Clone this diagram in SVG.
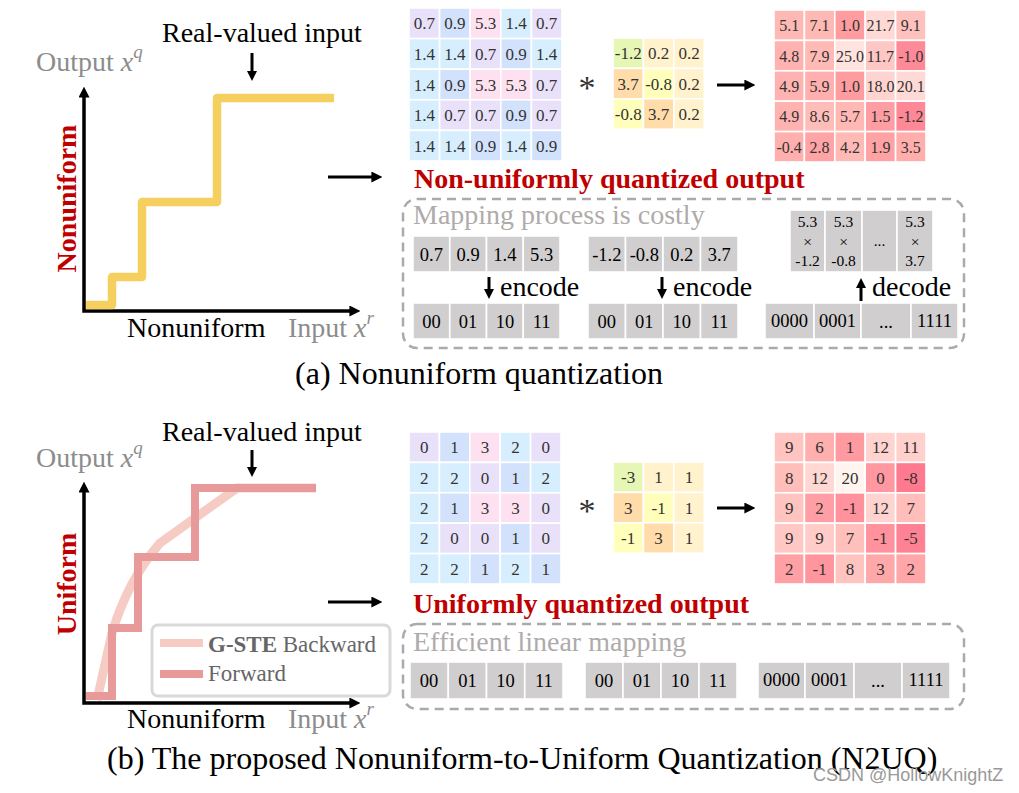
<svg xmlns="http://www.w3.org/2000/svg" width="1019" height="793" viewBox="0 0 1019 793">
<style>
text{font-family:"Liberation Serif","Times New Roman",serif}
.t28{font-size:28px;fill:#000}
.gl{font-size:28px;fill:#8c8c8c}
.red{font-size:28px;font-weight:bold;fill:#c00000}
.map{font-size:28px;fill:#afabab}
.enc{font-size:28px;fill:#000}
.cap{font-size:32px;fill:#000}
.n{font-size:17px;fill:#333;text-anchor:middle}
.o{font-size:16px;fill:#333;text-anchor:middle}
.g{font-size:18.5px;fill:#000;text-anchor:middle}
.s{font-size:15.5px;fill:#000;text-anchor:middle}
.wm{font-family:"Liberation Sans",Arial,sans-serif;font-size:18px;fill:#999}
.cell rect{stroke:#fff;stroke-width:1.6}
.lv{fill:#e9e1f9}.bl{fill:#d3e2fc}.cy{fill:#d6eefd}.pk{fill:#fde1f0}
.gn{fill:#e6f6b5}.cr{fill:#fff2cc}.or{fill:#ffdcaa}.yl{fill:#ffffbb}
.gy{fill:#d0cece}
.ax{fill:none;stroke:#000;stroke-width:3.5}
.ar{fill:none;stroke:#000;stroke-width:3}
.box{fill:none;stroke:#aaa;stroke-width:2.5;stroke-dasharray:9 6}
</style>
<defs>
<marker id="ah" viewBox="0 0 10 10" markerWidth="11" markerHeight="11" refX="6" refY="5" orient="auto-start-reverse" markerUnits="userSpaceOnUse"><path d="M0,0 L10,5 L0,10 z" fill="#000"/></marker>
<marker id="ahs" viewBox="0 0 10 10" markerWidth="10" markerHeight="10" refX="6" refY="5" orient="auto-start-reverse" markerUnits="userSpaceOnUse"><path d="M0,0 L10,5 L0,10 z" fill="#000"/></marker>
</defs>
<rect width="1019" height="793" fill="#fff"/>

<!-- ===== (a) graph ===== -->
<g id="graph-a">
<text class="t28" x="162" y="42">Real-valued input</text>
<text class="gl" x="36" y="71">Output <tspan font-style="italic">x</tspan><tspan font-style="italic" font-size="19" dy="-13">q</tspan></text>
<path class="ax" d="M84 91 V311 H356" marker-start="url(#ah)" marker-end="url(#ah)"/>
<path d="M86 305 H112 V277 H142 V202 H217 V98 H334" fill="none" stroke="#f6d05f" stroke-width="8.5" stroke-linejoin="round"/>
<text class="red" transform="translate(76,198.5) rotate(-90)" text-anchor="middle">Nonuniform</text>
<text class="t28" x="127" y="337">Nonuniform</text>
<text class="gl" x="288" y="337">Input <tspan font-style="italic">x</tspan><tspan font-style="italic" font-size="19" dy="-13">r</tspan></text>
</g>

<!-- ===== (b) graph ===== -->
<g id="graph-b">
<text class="t28" x="162" y="441">Real-valued input</text>
<text class="gl" x="36" y="467">Output <tspan font-style="italic">x</tspan><tspan font-style="italic" font-size="19" dy="-13">q</tspan></text>
<path class="ax" d="M84 486 V703 H356" marker-start="url(#ah)" marker-end="url(#ah)"/>
<path d="M97 700 L112 633 Q128 580 160 543 L237 488 H316" fill="none" stroke="#f6cbc4" stroke-width="9"/>
<path d="M86 696 H112 V628 H138 V557 H195 V488 H316" fill="none" stroke="#e89a9a" stroke-width="8"/>
<text class="red" transform="translate(76,584) rotate(-90)" text-anchor="middle">Uniform</text>
<text class="t28" x="127" y="728">Nonuniform</text>
<text class="gl" x="288" y="728">Input <tspan font-style="italic">x</tspan><tspan font-style="italic" font-size="19" dy="-13">r</tspan></text>
</g>
<g id="legend">
<rect x="152" y="625" width="238" height="71" rx="6" fill="#fff" stroke="#d9d9d9" stroke-width="3"/>
<line x1="160" y1="643" x2="203" y2="643" stroke="#f6cbc4" stroke-width="8"/>
<line x1="160" y1="674" x2="203" y2="674" stroke="#e89a9a" stroke-width="8"/>
<text x="208" y="652" font-size="23" fill="#666"><tspan font-weight="bold">G-STE</tspan> Backward</text>
<text x="208" y="681" font-size="23" fill="#666">Forward</text>
</g>

<!-- ===== connectors ===== -->
<g id="connectors">
<line class="ar" x1="252" y1="53" x2="252" y2="77" marker-end="url(#ahs)"/>
<line class="ar" x1="252" y1="450" x2="252" y2="473" marker-end="url(#ahs)"/>
<line class="ar" x1="328" y1="177" x2="378" y2="177" marker-end="url(#ah)"/>
<line class="ar" x1="328" y1="602" x2="378" y2="602" marker-end="url(#ah)"/>
<line class="ar" x1="717" y1="85" x2="751" y2="85" marker-end="url(#ah)"/>
<line class="ar" x1="717" y1="508" x2="751" y2="508" marker-end="url(#ah)"/>
<line class="ar" x1="489" y1="277" x2="489" y2="295" marker-end="url(#ahs)"/>
<line class="ar" x1="662" y1="277" x2="662" y2="295" marker-end="url(#ahs)"/>
<line class="ar" x1="861" y1="301" x2="861" y2="282" marker-end="url(#ahs)"/>
</g>

<!-- ===== (a) matrices ===== -->
<g id="input-a" class="cell" transform="translate(409,8)">
<rect x="0" y="0" width="30.6" height="30.6" class="lv"/><rect x="30.6" y="0" width="30.6" height="30.6" class="bl"/><rect x="61.2" y="0" width="30.6" height="30.6" class="pk"/><rect x="91.8" y="0" width="30.6" height="30.6" class="cy"/><rect x="122.4" y="0" width="30.6" height="30.6" class="lv"/>
<rect x="0" y="30.6" width="30.6" height="30.6" class="cy"/><rect x="30.6" y="30.6" width="30.6" height="30.6" class="cy"/><rect x="61.2" y="30.6" width="30.6" height="30.6" class="lv"/><rect x="91.8" y="30.6" width="30.6" height="30.6" class="bl"/><rect x="122.4" y="30.6" width="30.6" height="30.6" class="cy"/>
<rect x="0" y="61.2" width="30.6" height="30.6" class="cy"/><rect x="30.6" y="61.2" width="30.6" height="30.6" class="bl"/><rect x="61.2" y="61.2" width="30.6" height="30.6" class="pk"/><rect x="91.8" y="61.2" width="30.6" height="30.6" class="pk"/><rect x="122.4" y="61.2" width="30.6" height="30.6" class="lv"/>
<rect x="0" y="91.8" width="30.6" height="30.6" class="cy"/><rect x="30.6" y="91.8" width="30.6" height="30.6" class="lv"/><rect x="61.2" y="91.8" width="30.6" height="30.6" class="lv"/><rect x="91.8" y="91.8" width="30.6" height="30.6" class="bl"/><rect x="122.4" y="91.8" width="30.6" height="30.6" class="lv"/>
<rect x="0" y="122.4" width="30.6" height="30.6" class="cy"/><rect x="30.6" y="122.4" width="30.6" height="30.6" class="cy"/><rect x="61.2" y="122.4" width="30.6" height="30.6" class="bl"/><rect x="91.8" y="122.4" width="30.6" height="30.6" class="cy"/><rect x="122.4" y="122.4" width="30.6" height="30.6" class="bl"/>
<text class="n" x="15.3" y="21.3">0.7</text><text class="n" x="45.9" y="21.3">0.9</text><text class="n" x="76.5" y="21.3">5.3</text><text class="n" x="107.1" y="21.3">1.4</text><text class="n" x="137.7" y="21.3">0.7</text>
<text class="n" x="15.3" y="51.9">1.4</text><text class="n" x="45.9" y="51.9">1.4</text><text class="n" x="76.5" y="51.9">0.7</text><text class="n" x="107.1" y="51.9">0.9</text><text class="n" x="137.7" y="51.9">1.4</text>
<text class="n" x="15.3" y="82.5">1.4</text><text class="n" x="45.9" y="82.5">0.9</text><text class="n" x="76.5" y="82.5">5.3</text><text class="n" x="107.1" y="82.5">5.3</text><text class="n" x="137.7" y="82.5">0.7</text>
<text class="n" x="15.3" y="113.1">1.4</text><text class="n" x="45.9" y="113.1">0.7</text><text class="n" x="76.5" y="113.1">0.7</text><text class="n" x="107.1" y="113.1">0.9</text><text class="n" x="137.7" y="113.1">0.7</text>
<text class="n" x="15.3" y="143.7">1.4</text><text class="n" x="45.9" y="143.7">1.4</text><text class="n" x="76.5" y="143.7">0.9</text><text class="n" x="107.1" y="143.7">1.4</text><text class="n" x="137.7" y="143.7">0.9</text>
</g>
<text x="587" y="99" font-size="34" text-anchor="middle" fill="#333">*</text>
<g id="kernel-a" class="cell" transform="translate(613,38)">
<rect x="0" y="0" width="30.4" height="30.4" class="gn"/><rect x="30.4" y="0" width="30.4" height="30.4" class="cr"/><rect x="60.8" y="0" width="30.4" height="30.4" class="cr"/>
<rect x="0" y="30.4" width="30.4" height="30.4" class="or"/><rect x="30.4" y="30.4" width="30.4" height="30.4" class="yl"/><rect x="60.8" y="30.4" width="30.4" height="30.4" class="cr"/>
<rect x="0" y="60.8" width="30.4" height="30.4" class="yl"/><rect x="30.4" y="60.8" width="30.4" height="30.4" class="or"/><rect x="60.8" y="60.8" width="30.4" height="30.4" class="cr"/>
<text class="n" x="15.2" y="21.2">-1.2</text><text class="n" x="45.6" y="21.2">0.2</text><text class="n" x="76" y="21.2">0.2</text>
<text class="n" x="15.2" y="51.6">3.7</text><text class="n" x="45.6" y="51.6">-0.8</text><text class="n" x="76" y="51.6">0.2</text>
<text class="n" x="15.2" y="82">-0.8</text><text class="n" x="45.6" y="82">3.7</text><text class="n" x="76" y="82">0.2</text>
</g>
<g id="output-a" class="cell" transform="translate(774,10)">
<rect x="0" y="0" width="30.4" height="30.4" fill="#ffb9b5"/><rect x="30.4" y="0" width="30.4" height="30.4" fill="#ffb9b5"/><rect x="60.8" y="0" width="30.4" height="30.4" fill="#ff9ca0"/><rect x="91.2" y="0" width="30.4" height="30.4" fill="#ffd9d5"/><rect x="121.6" y="0" width="30.4" height="30.4" fill="#ffc1bd"/>
<rect x="0" y="30.4" width="30.4" height="30.4" fill="#ffb3b0"/><rect x="30.4" y="30.4" width="30.4" height="30.4" fill="#ffbab6"/><rect x="60.8" y="30.4" width="30.4" height="30.4" fill="#ffe3de"/><rect x="91.2" y="30.4" width="30.4" height="30.4" fill="#ffc7c3"/><rect x="121.6" y="30.4" width="30.4" height="30.4" fill="#ff8a97"/>
<rect x="0" y="60.8" width="30.4" height="30.4" fill="#ffb3b0"/><rect x="30.4" y="60.8" width="30.4" height="30.4" fill="#ffb0ae"/><rect x="60.8" y="60.8" width="30.4" height="30.4" fill="#ff9ca0"/><rect x="91.2" y="60.8" width="30.4" height="30.4" fill="#ffd3cf"/><rect x="121.6" y="60.8" width="30.4" height="30.4" fill="#ffd9d5"/>
<rect x="0" y="91.2" width="30.4" height="30.4" fill="#ffb3b0"/><rect x="30.4" y="91.2" width="30.4" height="30.4" fill="#ffbdb9"/><rect x="60.8" y="91.2" width="30.4" height="30.4" fill="#ffb8b4"/><rect x="91.2" y="91.2" width="30.4" height="30.4" fill="#ff9ea2"/><rect x="121.6" y="91.2" width="30.4" height="30.4" fill="#ff8896"/>
<rect x="0" y="121.6" width="30.4" height="30.4" fill="#ffb0ae"/><rect x="30.4" y="121.6" width="30.4" height="30.4" fill="#ffa4a6"/><rect x="60.8" y="121.6" width="30.4" height="30.4" fill="#ffbab6"/><rect x="91.2" y="121.6" width="30.4" height="30.4" fill="#ffa2a4"/><rect x="121.6" y="121.6" width="30.4" height="30.4" fill="#ffaeac"/>
<text class="o" x="15.2" y="21.2">5.1</text><text class="o" x="45.6" y="21.2">7.1</text><text class="o" x="76" y="21.2">1.0</text><text class="o" x="106.4" y="21.2">21.7</text><text class="o" x="136.8" y="21.2">9.1</text>
<text class="o" x="15.2" y="51.6">4.8</text><text class="o" x="45.6" y="51.6">7.9</text><text class="o" x="76" y="51.6">25.0</text><text class="o" x="106.4" y="51.6">11.7</text><text class="o" x="136.8" y="51.6">-1.0</text>
<text class="o" x="15.2" y="82">4.9</text><text class="o" x="45.6" y="82">5.9</text><text class="o" x="76" y="82">1.0</text><text class="o" x="106.4" y="82">18.0</text><text class="o" x="136.8" y="82">20.1</text>
<text class="o" x="15.2" y="112.4">4.9</text><text class="o" x="45.6" y="112.4">8.6</text><text class="o" x="76" y="112.4">5.7</text><text class="o" x="106.4" y="112.4">1.5</text><text class="o" x="136.8" y="112.4">-1.2</text>
<text class="o" x="15.2" y="142.8">-0.4</text><text class="o" x="45.6" y="142.8">2.8</text><text class="o" x="76" y="142.8">4.2</text><text class="o" x="106.4" y="142.8">1.9</text><text class="o" x="136.8" y="142.8">3.5</text>
</g>
<text class="red" x="414" y="188">Non-uniformly quantized output</text>

<!-- ===== (a) mapping box ===== -->
<g id="mapping-a">
<rect class="box" x="403" y="199" width="561" height="149" rx="14"/>
<text class="map" x="413" y="224">Mapping process is costly</text>
<g class="cell">
<rect class="gy" x="413" y="236" width="36.75" height="36"/><rect class="gy" x="449.75" y="236" width="36.75" height="36"/><rect class="gy" x="486.5" y="236" width="36.75" height="36"/><rect class="gy" x="523.25" y="236" width="36.75" height="36"/>
<rect class="gy" x="588" y="236" width="37.5" height="36"/><rect class="gy" x="625.5" y="236" width="37.5" height="36"/><rect class="gy" x="663" y="236" width="37.5" height="36"/><rect class="gy" x="700.5" y="236" width="37.5" height="36"/>
<rect class="gy" x="790" y="210" width="35" height="62"/><rect class="gy" x="825" y="210" width="37" height="62"/><rect class="gy" x="862" y="210" width="35" height="62"/><rect class="gy" x="897" y="210" width="36" height="62"/>
<rect class="gy" x="413" y="303" width="36.75" height="36"/><rect class="gy" x="449.75" y="303" width="36.75" height="36"/><rect class="gy" x="486.5" y="303" width="36.75" height="36"/><rect class="gy" x="523.25" y="303" width="36.75" height="36"/>
<rect class="gy" x="588" y="303" width="37.5" height="36"/><rect class="gy" x="625.5" y="303" width="37.5" height="36"/><rect class="gy" x="663" y="303" width="37.5" height="36"/><rect class="gy" x="700.5" y="303" width="37.5" height="36"/>
<rect class="gy" x="765" y="303" width="49" height="36"/><rect class="gy" x="814" y="303" width="47" height="36"/><rect class="gy" x="861" y="303" width="50" height="36"/><rect class="gy" x="911" y="303" width="47" height="36"/>
</g>
<text class="g" x="431.4" y="260.5">0.7</text><text class="g" x="468.1" y="260.5">0.9</text><text class="g" x="504.9" y="260.5">1.4</text><text class="g" x="541.6" y="260.5">5.3</text>
<text class="g" x="606.8" y="260.5">-1.2</text><text class="g" x="644.3" y="260.5">-0.8</text><text class="g" x="681.8" y="260.5">0.2</text><text class="g" x="719.3" y="260.5">3.7</text>
<text class="s" x="807.5" y="227">5.3</text><text class="s" x="807.5" y="247">×</text><text class="s" x="807.5" y="266">-1.2</text>
<text class="s" x="843.5" y="227">5.3</text><text class="s" x="843.5" y="247">×</text><text class="s" x="843.5" y="266">-0.8</text>
<text class="s" x="879.5" y="246">...</text>
<text class="s" x="915" y="227">5.3</text><text class="s" x="915" y="247">×</text><text class="s" x="915" y="266">3.7</text>
<text class="g" x="431.4" y="327.5">00</text><text class="g" x="468.1" y="327.5">01</text><text class="g" x="504.9" y="327.5">10</text><text class="g" x="541.6" y="327.5">11</text>
<text class="g" x="606.8" y="327.5">00</text><text class="g" x="644.3" y="327.5">01</text><text class="g" x="681.8" y="327.5">10</text><text class="g" x="719.3" y="327.5">11</text>
<text class="g" x="789.5" y="326.5">0000</text><text class="g" x="837.5" y="326.5">0001</text><text class="g" x="886" y="327.5">...</text><text class="g" x="934.5" y="326.5">1111</text>
<text class="enc" x="500" y="296">encode</text>
<text class="enc" x="673" y="296">encode</text>
<text class="enc" x="872" y="296">decode</text>
</g>
<text class="cap" x="479" y="384" text-anchor="middle">(a) Nonuniform quantization</text>

<!-- ===== (b) matrices ===== -->
<g id="input-b" class="cell" transform="translate(409,432)">
<rect x="0" y="0" width="30.4" height="30.4" class="lv"/><rect x="30.4" y="0" width="30.4" height="30.4" class="bl"/><rect x="60.8" y="0" width="30.4" height="30.4" class="pk"/><rect x="91.2" y="0" width="30.4" height="30.4" class="cy"/><rect x="121.6" y="0" width="30.4" height="30.4" class="lv"/>
<rect x="0" y="30.4" width="30.4" height="30.4" class="cy"/><rect x="30.4" y="30.4" width="30.4" height="30.4" class="cy"/><rect x="60.8" y="30.4" width="30.4" height="30.4" class="lv"/><rect x="91.2" y="30.4" width="30.4" height="30.4" class="bl"/><rect x="121.6" y="30.4" width="30.4" height="30.4" class="cy"/>
<rect x="0" y="60.8" width="30.4" height="30.4" class="cy"/><rect x="30.4" y="60.8" width="30.4" height="30.4" class="bl"/><rect x="60.8" y="60.8" width="30.4" height="30.4" class="pk"/><rect x="91.2" y="60.8" width="30.4" height="30.4" class="pk"/><rect x="121.6" y="60.8" width="30.4" height="30.4" class="lv"/>
<rect x="0" y="91.2" width="30.4" height="30.4" class="cy"/><rect x="30.4" y="91.2" width="30.4" height="30.4" class="lv"/><rect x="60.8" y="91.2" width="30.4" height="30.4" class="lv"/><rect x="91.2" y="91.2" width="30.4" height="30.4" class="bl"/><rect x="121.6" y="91.2" width="30.4" height="30.4" class="lv"/>
<rect x="0" y="121.6" width="30.4" height="30.4" class="cy"/><rect x="30.4" y="121.6" width="30.4" height="30.4" class="cy"/><rect x="60.8" y="121.6" width="30.4" height="30.4" class="bl"/><rect x="91.2" y="121.6" width="30.4" height="30.4" class="cy"/><rect x="121.6" y="121.6" width="30.4" height="30.4" class="bl"/>
<text class="n" x="15.2" y="21.2">0</text><text class="n" x="45.6" y="21.2">1</text><text class="n" x="76" y="21.2">3</text><text class="n" x="106.4" y="21.2">2</text><text class="n" x="136.8" y="21.2">0</text>
<text class="n" x="15.2" y="51.6">2</text><text class="n" x="45.6" y="51.6">2</text><text class="n" x="76" y="51.6">0</text><text class="n" x="106.4" y="51.6">1</text><text class="n" x="136.8" y="51.6">2</text>
<text class="n" x="15.2" y="82">2</text><text class="n" x="45.6" y="82">1</text><text class="n" x="76" y="82">3</text><text class="n" x="106.4" y="82">3</text><text class="n" x="136.8" y="82">0</text>
<text class="n" x="15.2" y="112.4">2</text><text class="n" x="45.6" y="112.4">0</text><text class="n" x="76" y="112.4">0</text><text class="n" x="106.4" y="112.4">1</text><text class="n" x="136.8" y="112.4">0</text>
<text class="n" x="15.2" y="142.8">2</text><text class="n" x="45.6" y="142.8">2</text><text class="n" x="76" y="142.8">1</text><text class="n" x="106.4" y="142.8">2</text><text class="n" x="136.8" y="142.8">1</text>
</g>
<text x="587" y="522" font-size="34" text-anchor="middle" fill="#333">*</text>
<g id="kernel-b" class="cell" transform="translate(613,462)">
<rect x="0" y="0" width="30.4" height="30.4" class="gn"/><rect x="30.4" y="0" width="30.4" height="30.4" class="cr"/><rect x="60.8" y="0" width="30.4" height="30.4" class="cr"/>
<rect x="0" y="30.4" width="30.4" height="30.4" class="or"/><rect x="30.4" y="30.4" width="30.4" height="30.4" class="yl"/><rect x="60.8" y="30.4" width="30.4" height="30.4" class="cr"/>
<rect x="0" y="60.8" width="30.4" height="30.4" class="yl"/><rect x="30.4" y="60.8" width="30.4" height="30.4" class="or"/><rect x="60.8" y="60.8" width="30.4" height="30.4" class="cr"/>
<text class="n" x="15.2" y="21.2">-3</text><text class="n" x="45.6" y="21.2">1</text><text class="n" x="76" y="21.2">1</text>
<text class="n" x="15.2" y="51.6">3</text><text class="n" x="45.6" y="51.6">-1</text><text class="n" x="76" y="51.6">1</text>
<text class="n" x="15.2" y="82">-1</text><text class="n" x="45.6" y="82">3</text><text class="n" x="76" y="82">1</text>
</g>
<g id="output-b" class="cell" transform="translate(774,432)">
<rect x="0" y="0" width="30.4" height="30.4" fill="#ffc4c0"/><rect x="30.4" y="0" width="30.4" height="30.4" fill="#ffb0ae"/><rect x="60.8" y="0" width="30.4" height="30.4" fill="#ff9aa0"/><rect x="91.2" y="0" width="30.4" height="30.4" fill="#ffd3cf"/><rect x="121.6" y="0" width="30.4" height="30.4" fill="#ffd0cc"/>
<rect x="0" y="30.4" width="30.4" height="30.4" fill="#ffbeba"/><rect x="30.4" y="30.4" width="30.4" height="30.4" fill="#ffd8d4"/><rect x="60.8" y="30.4" width="30.4" height="30.4" fill="#fff4ee"/><rect x="91.2" y="30.4" width="30.4" height="30.4" fill="#ff98a0"/><rect x="121.6" y="30.4" width="30.4" height="30.4" fill="#ff7a8e"/>
<rect x="0" y="60.8" width="30.4" height="30.4" fill="#ffc4c0"/><rect x="30.4" y="60.8" width="30.4" height="30.4" fill="#ff9ea4"/><rect x="60.8" y="60.8" width="30.4" height="30.4" fill="#ff929c"/><rect x="91.2" y="60.8" width="30.4" height="30.4" fill="#ffd3cf"/><rect x="121.6" y="60.8" width="30.4" height="30.4" fill="#ffbeba"/>
<rect x="0" y="91.2" width="30.4" height="30.4" fill="#ffc8c4"/><rect x="30.4" y="91.2" width="30.4" height="30.4" fill="#ffccc8"/><rect x="60.8" y="91.2" width="30.4" height="30.4" fill="#ffc0bc"/><rect x="91.2" y="91.2" width="30.4" height="30.4" fill="#ff929c"/><rect x="121.6" y="91.2" width="30.4" height="30.4" fill="#ff8294"/>
<rect x="0" y="121.6" width="30.4" height="30.4" fill="#ffa0a4"/><rect x="30.4" y="121.6" width="30.4" height="30.4" fill="#ff969e"/><rect x="60.8" y="121.6" width="30.4" height="30.4" fill="#ffc4c0"/><rect x="91.2" y="121.6" width="30.4" height="30.4" fill="#ffa8aa"/><rect x="121.6" y="121.6" width="30.4" height="30.4" fill="#ffa6a8"/>
<text class="n" x="15.2" y="21.2">9</text><text class="n" x="45.6" y="21.2">6</text><text class="n" x="76" y="21.2">1</text><text class="n" x="106.4" y="21.2">12</text><text class="n" x="136.8" y="21.2">11</text>
<text class="n" x="15.2" y="51.6">8</text><text class="n" x="45.6" y="51.6">12</text><text class="n" x="76" y="51.6">20</text><text class="n" x="106.4" y="51.6">0</text><text class="n" x="136.8" y="51.6">-8</text>
<text class="n" x="15.2" y="82">9</text><text class="n" x="45.6" y="82">2</text><text class="n" x="76" y="82">-1</text><text class="n" x="106.4" y="82">12</text><text class="n" x="136.8" y="82">7</text>
<text class="n" x="15.2" y="112.4">9</text><text class="n" x="45.6" y="112.4">9</text><text class="n" x="76" y="112.4">7</text><text class="n" x="106.4" y="112.4">-1</text><text class="n" x="136.8" y="112.4">-5</text>
<text class="n" x="15.2" y="142.8">2</text><text class="n" x="45.6" y="142.8">-1</text><text class="n" x="76" y="142.8">8</text><text class="n" x="106.4" y="142.8">3</text><text class="n" x="136.8" y="142.8">2</text>
</g>
<text class="red" x="413" y="613" font-size="25">Uniformly quantized output</text>

<!-- ===== (b) mapping box ===== -->
<g id="mapping-b">
<rect class="box" x="403" y="624" width="561" height="85" rx="14"/>
<text class="map" x="413" y="651">Efficient linear mapping</text>
<g class="cell">
<rect class="gy" x="410" y="662" width="38.25" height="37"/><rect class="gy" x="448.25" y="662" width="38.25" height="37"/><rect class="gy" x="486.5" y="662" width="38.25" height="37"/><rect class="gy" x="524.75" y="662" width="38.25" height="37"/>
<rect class="gy" x="585" y="662" width="38" height="37"/><rect class="gy" x="623" y="662" width="38" height="37"/><rect class="gy" x="661" y="662" width="38" height="37"/><rect class="gy" x="699" y="662" width="38" height="37"/>
<rect class="gy" x="758" y="662" width="47" height="37"/><rect class="gy" x="805" y="662" width="49" height="37"/><rect class="gy" x="854" y="662" width="48" height="37"/><rect class="gy" x="902" y="662" width="48" height="37"/>
</g>
<text class="g" x="429.1" y="687">00</text><text class="g" x="467.4" y="687">01</text><text class="g" x="505.6" y="687">10</text><text class="g" x="543.9" y="687">11</text>
<text class="g" x="604" y="687">00</text><text class="g" x="642" y="687">01</text><text class="g" x="680" y="687">10</text><text class="g" x="718" y="687">11</text>
<text class="g" x="781.5" y="686">0000</text><text class="g" x="829.5" y="686">0001</text><text class="g" x="878" y="687">...</text><text class="g" x="926" y="686">1111</text>
</g>
<text class="cap" x="107" y="769">(b) The proposed Nonuniform-to-Uniform Quantization (N2UQ)</text>
<text class="wm" x="813" y="781">CSDN @HollowKnightZ</text>
</svg>
